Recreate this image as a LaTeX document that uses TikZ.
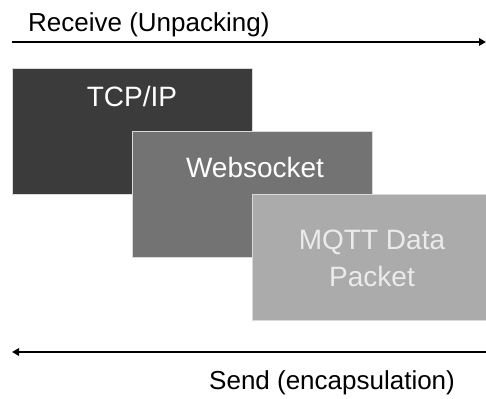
\documentclass[tikz,border=0pt]{standalone}
\usepackage{fontspec}
\setmainfont{Liberation Sans}
\usetikzlibrary{arrows.meta}
\begin{document}
\begin{tikzpicture}[x=1pt,y=1pt,
  layer/.style={draw=white!85!black, line width=0.6pt, minimum width=240pt, minimum height=126pt, inner sep=0pt, anchor=north west},
  layertext/.style={font=\fontsize{28}{37}\selectfont, align=center, inner sep=0pt},
  flow/.style={line width=2.3pt, -{Triangle[length=7pt,width=7.5pt]}},
  caption/.style={inner sep=0pt, anchor=base west, font=\fontsize{26}{30}\selectfont}]
\useasboundingbox (0,0) rectangle (486,-398);
\clip (0,0) rectangle (486,-398);
% stacked protocol layers
\node[layer, fill=black!77] (tcp) at (12,-68) {};
\node[layer, fill=black!55] (ws) at (132,-131) {};
\node[layer, fill=black!33] (mqtt) at (252,-194) {};
\node[layertext, text=white, anchor=base] (tcptxt) at (132,-107) {TCP/IP};
\node[layertext, text=white, anchor=base] (wstxt) at (255,-177) {Websocket};
\node[layertext, text=white!92!black] (mqtttxt) at (372,-258) {MQTT Data\\Packet};
% direction arrows
\coordinate (rxs) at (12,-42);
\coordinate (rxe) at (486,-42);
\coordinate (txs) at (486,-352);
\coordinate (txe) at (12,-352);
\draw[flow] (rxs) -- (rxe);
\draw[flow] (txs) -- (txe);
\node[caption] (rx) at (28,-32) {Receive (Unpacking)};
\node[caption] (tx) at (209,-389) {Send (encapsulation)};
\end{tikzpicture}
\end{document}
